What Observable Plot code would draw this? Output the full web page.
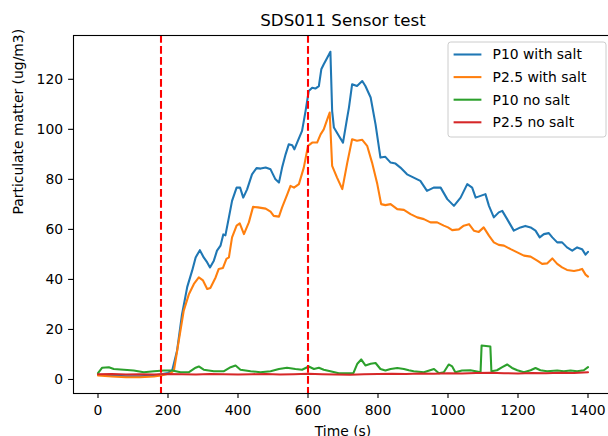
<!DOCTYPE html>
<html><head><meta charset="utf-8">
<script src="https://cdn.jsdelivr.net/npm/d3@7"></script>
<script src="https://cdn.jsdelivr.net/npm/@observablehq/plot@0.6"></script>
<style>
html,body{margin:0;padding:0;background:#fff;overflow:hidden;}
#wrap{width:608px;height:436px;overflow:hidden;position:relative;background:#fff;}
#wrap svg{display:block;max-width:none !important;}
</style></head><body><div id="wrap"></div>
<script>
const title = "SDS011 Sensor test";
const xLabel = "Time (s)";
const yLabel = "Particulate matter (ug/m3)";
const seriesNames = ["P10 with salt", "P2.5 with salt", "P10 no salt", "P2.5 no salt"];
const seriesColors = ["#1f77b4", "#ff7f0e", "#2ca02c", "#d62728"];
const xTicks = [0, 200, 400, 600, 800, 1000, 1200, 1400];
const yTicks = [0, 20, 40, 60, 80, 100, 120];
const markerTimes = [180, 600];

// [time (s), value (ug/m3)]
const p10Salt = [[0,1.9],[40,1.6],[80,1.3],[120,1.3],[160,1.6],[200,2.6],[212,3.6],[226,11.6],[240,26],[255,37],[269,43.5],[279,48.8],[291,51.7],[302,48.8],[312,46.8],[320,44.8],[331,47.5],[340,51.5],[350,53.5],[358,58],[364,57.6],[374,64.8],[383,71.4],[396,76.7],[406,76.7],[415,72.7],[426,76],[440,82],[453,84.5],[465,84.3],[479,84.7],[493,84],[507,80],[517,78.7],[526,84.7],[536,90],[545,94],[555,93.6],[561,92],[571,95.4],[583,99.4],[593,107.3],[602,115.3],[612,116.6],[621,116.3],[631,117.3],[638,124],[645,126],[655,128.6],[664,131],[669,107.3],[674,100.7],[688,97.4],[700,94.7],[712,104.7],[717,108.7],[726,118],[740,117.3],[755,119.3],[764,117.3],[779,112.7],[793,102],[807,88.7],[821,89],[836,86.7],[850,86.3],[864,84.7],[883,82],[902,80.7],[921,79.4],[940,75.4],[959,76.7],[979,76.7],[998,72.1],[1017,69.4],[1036,72.7],[1055,78.1],[1069,76.7],[1079,72.7],[1093,73.4],[1107,74.1],[1117,69.4],[1131,64.8],[1145,66.8],[1155,67.4],[1169,64.1],[1188,59.5],[1207,60.8],[1221,61.4],[1236,60.8],[1250,59.5],[1262,56.8],[1274,58.1],[1288,58.5],[1298,56.8],[1312,54.8],[1326,54.8],[1340,52.8],[1355,51.5],[1369,52.8],[1383,52.1],[1393,49.9],[1400,51.0]];
const p25Salt = [[0,1.6],[40,1.2],[80,0.9],[120,0.9],[160,1.2],[180,1.6],[207,2.5],[217,3.6],[231,15.6],[245,27.5],[260,34.2],[274,38.2],[288,40.8],[300,39.6],[312,36.2],[321,36.6],[336,40.8],[345,44.2],[357,44.6],[367,48.2],[374,48.8],[383,56.8],[396,61.5],[405,62.4],[417,58.1],[431,62.8],[443,69],[457,68.8],[479,68.3],[493,67.1],[502,65.4],[517,65.1],[526,68.8],[541,74.1],[550,77.4],[560,76.7],[574,78.1],[588,84.7],[600,93.4],[612,94.7],[626,94.7],[636,98],[645,100],[655,104],[662,106.7],[669,85.4],[683,80.7],[698,76.1],[712,86.5],[726,96],[740,95.4],[755,95.8],[769,93.4],[783,86.7],[798,78.1],[809,70.1],[821,69.7],[836,70.1],[855,68.1],[874,67.8],[893,66.1],[912,64.8],[931,64.1],[950,62.8],[969,62.8],[988,61.5],[1000,60.8],[1012,59.7],[1031,60],[1045,61.5],[1060,62.1],[1074,59.5],[1088,59],[1102,60.8],[1117,57.5],[1131,54.8],[1145,53.8],[1160,53.5],[1179,52.1],[1198,50.8],[1217,49.5],[1236,49.1],[1255,47.5],[1269,46.2],[1283,46.4],[1298,48.4],[1312,46.2],[1326,44.8],[1340,43.8],[1360,43.4],[1374,43.8],[1383,44.2],[1393,41.9],[1400,41.1]];
const p10NoSalt = [[0,2.5],[12,4.7],[31,4.9],[45,4.2],[74,3.9],[102,3.6],[131,2.9],[160,3.3],[188,3.6],[212,3.6],[236,2.9],[260,2.9],[279,4.7],[288,5.2],[302,3.9],[331,3.3],[360,3.3],[379,4.9],[393,5.6],[407,3.9],[436,3.3],[464,2.9],[493,3.3],[517,4.2],[540,4.7],[564,4.2],[583,3.9],[602,5.2],[617,4.2],[631,4.7],[645,3.9],[664,3.3],[688,2.5],[710,2.5],[730,2.6],[741,6.3],[752,8],[764,5.6],[779,6.3],[793,6.6],[807,4.2],[821,3.6],[836,4.2],[855,4.6],[874,4.2],[888,3.7],[902,3.3],[931,2.9],[960,4.2],[974,2.5],[988,2.9],[1002,6],[1012,5.2],[1021,2.9],[1040,3.6],[1064,3.7],[1079,3.3],[1093,2.9],[1096,13.6],[1121,13.2],[1124,3.3],[1140,3.7],[1155,4.9],[1169,6],[1183,4.6],[1198,3.7],[1217,2.9],[1236,3.7],[1250,4.6],[1264,3.7],[1283,3.3],[1312,3.6],[1331,3.3],[1350,3.6],[1369,3.3],[1388,3.7],[1400,4.9]];
const p25NoSalt = [[0,2.1],[40,2.2],[80,2.0],[120,2.1],[160,2.0],[200,2.2],[240,2.1],[280,2.0],[320,2.2],[360,2.1],[400,2.0],[440,2.1],[480,2.2],[520,2.0],[560,2.1],[600,2.3],[640,2.1],[680,2.0],[720,1.9],[760,2.1],[800,2.2],[840,2.3],[880,2.2],[920,2.4],[960,2.3],[1000,2.5],[1040,2.4],[1080,2.6],[1120,2.7],[1160,2.5],[1200,2.4],[1240,2.6],[1280,2.5],[1320,2.7],[1360,2.6],[1400,2.9]];

const allSeries = [p10Salt, p25Salt, p10NoSalt, p25NoSalt];
const rows = [];
allSeries.forEach((arr, i) => arr.forEach(([t, v]) => rows.push({t, v, s: seriesNames[i]})));

const tMin = d3.min(rows, d => d.t), tMax = d3.max(rows, d => d.t);
const vMin = d3.min(rows, d => d.v), vMax = d3.max(rows, d => d.v);
const xPad = 0.05 * (tMax - tMin), yPad = 0.05 * (vMax - vMin);

const W = 620, H = 450;
const FS = 13.9;
const chart = Plot.plot({
  width: W, height: H,
  marginLeft: 73, marginRight: 8, marginTop: 35, marginBottom: 57,
  style: {fontFamily: "'DejaVu Sans', sans-serif", fontSize: FS + "px", color: "#000", background: "#fff"},
  x: {domain: [tMin - xPad, tMax + xPad]},
  y: {domain: [vMin - yPad, vMax + yPad]},
  color: {domain: seriesNames, range: seriesColors},
  marks: [
    Plot.line(rows, {x: "t", y: "v", z: "s", stroke: "s", strokeWidth: 2.08, curve: "linear"}),
    Plot.ruleX(markerTimes, {stroke: "#ff0000", strokeWidth: 2.08, strokeDasharray: "7.7,3.3"}),
    Plot.frame({stroke: "#000", strokeWidth: 1.1}),
    Plot.axisX(xTicks, {tickSize: 4.9, tickPadding: 6.5, label: null, strokeWidth: 1.1, tickFormat: d => String(d)}),
    Plot.axisY(yTicks, {tickSize: 4.9, tickPadding: 5.5, label: null, strokeWidth: 1.1, tickFormat: d => String(d)}),
    Plot.text([title], {frameAnchor: "top", lineAnchor: "middle", dy: -14.5, fontSize: 16.67}),
    Plot.text([xLabel], {frameAnchor: "bottom", lineAnchor: "middle", dy: 38.5}),
    Plot.text([yLabel], {frameAnchor: "left", lineAnchor: "middle", dx: -55, rotate: -90})
  ]
});
chart.style.maxWidth = "none";
document.getElementById("wrap").appendChild(chart);

// legend (upper right, matplotlib style)
const svg = d3.select(chart);
const lg = svg.append("g")
  .style("font-family", "'DejaVu Sans', sans-serif")
  .style("font-size", FS + "px")
  .style("text-anchor", "start");
const bx = 448, by = 42, bw = 158, bh = 95;
lg.append("rect").attr("x", bx).attr("y", by).attr("width", bw).attr("height", bh)
  .attr("rx", 2.8)
  .style("fill", "#ffffff").style("fill-opacity", 0.8)
  .style("stroke", "#cccccc").style("stroke-width", "1px");
seriesNames.forEach((n, i) => {
  const cy = 54.5 + i * 22.6;
  lg.append("line").attr("x1", bx + 5.6).attr("x2", bx + 33.4).attr("y1", cy).attr("y2", cy)
    .style("stroke", seriesColors[i]).style("stroke-width", "2.08px");
  lg.append("text").attr("x", bx + 44.5).attr("y", cy).attr("dy", "0.35em")
    .style("fill", "#000").style("text-anchor", "start").text(n);
});
</script></body></html>
